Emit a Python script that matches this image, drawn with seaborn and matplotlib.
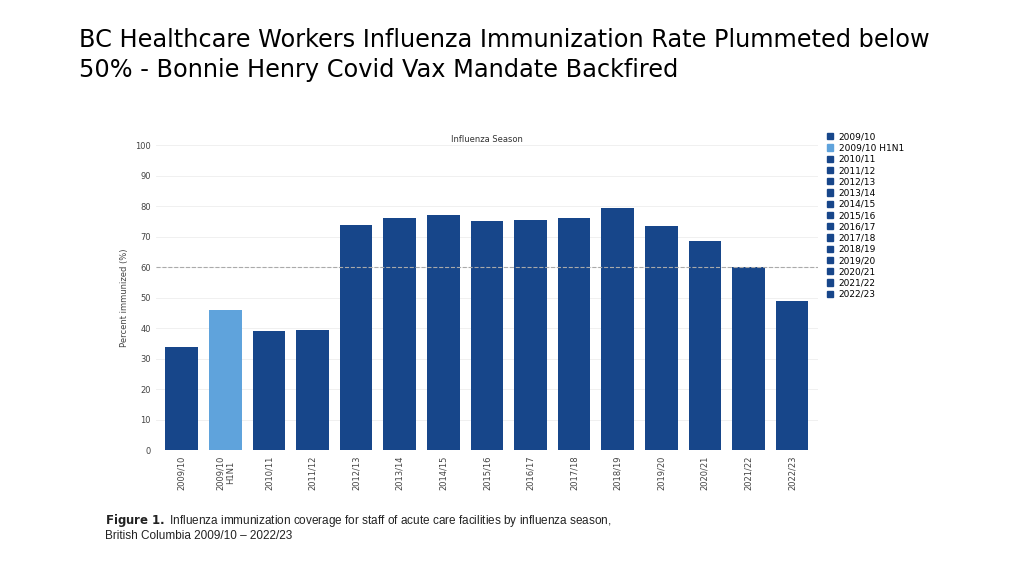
import matplotlib
matplotlib.use("Agg")
import matplotlib.pyplot as plt
import seaborn as sns
import pandas as pd
from matplotlib.patches import Patch

seasons = ["2009/10", "2009/10\nH1N1", "2010/11", "2011/12", "2012/13", "2013/14", "2014/15",
           "2015/16", "2016/17", "2017/18", "2018/19", "2019/20", "2020/21", "2021/22", "2022/23"]
legend_labels = ["2009/10", "2009/10 H1N1", "2010/11", "2011/12", "2012/13", "2013/14", "2014/15",
                 "2015/16", "2016/17", "2017/18", "2018/19", "2019/20", "2020/21", "2021/22", "2022/23"]
rates = [34, 46, 39, 39.5, 74, 76, 77, 75, 75.5, 76, 79.5, 73.5, 68.5, 60, 49]
yticks = [0, 10, 20, 30, 40, 50, 60, 70, 80, 90, 100]

dark = "#17468a"
light = "#5fa3dc"
colors = [dark, light] + [dark] * 13

df = pd.DataFrame({"season": seasons, "rate": rates})

fig = plt.figure(figsize=(10.24, 5.76), dpi=100)
fig.text(0.077, 0.905, "BC Healthcare Workers Influenza Immunization Rate Plummeted below\n50% - Bonnie Henry Covid Vax Mandate Backfired",
         fontsize=17.3, va="center", ha="left", linespacing=1.3)

ax = fig.add_axes([0.152, 0.218, 0.647, 0.53])
sns.barplot(data=df, x="season", y="rate", hue="season", palette=colors, legend=False,
            width=0.75, saturation=1, ax=ax, zorder=3)
ax.set_ylim(0, 100)
ax.set_xlim(-0.6, 14.6)
ax.set_yticks(yticks)
ax.tick_params(axis="y", labelsize=6, colors="#444444", length=0)
ax.tick_params(axis="x", labelsize=6, colors="#444444", length=0, labelrotation=90)
ax.grid(axis="y", color="#eeeeee", lw=0.6, zorder=0)
ax.axhline(60, color="#aaaaaa", ls="--", lw=0.8, zorder=4)
for s in ax.spines.values():
    s.set_visible(False)
ax.set_xlabel("")
ax.set_ylabel("Percent immunized (%)", fontsize=6, color="#444444")
ax.set_title("Influenza Season", fontsize=6, color="#333333", pad=2)

handles = [Patch(color=c) for c in colors]
fig.legend(handles, legend_labels, loc="upper left", bbox_to_anchor=(0.803, 0.778),
           frameon=False, fontsize=6.5, handlelength=0.7, handleheight=0.7,
           labelspacing=0.25, handletextpad=0.6, borderpad=0)

fig.text(0.103, 0.085, r"$\bf{Figure\ 1.}$ Influenza immunization coverage for staff of acute care facilities by influenza season,"
         "\nBritish Columbia 2009/10 \u2013 2022/23", fontsize=8.5, va="center", ha="left", color="#222222",
         family="Liberation Sans")

fig.savefig("out.png", dpi=100, facecolor="white")
